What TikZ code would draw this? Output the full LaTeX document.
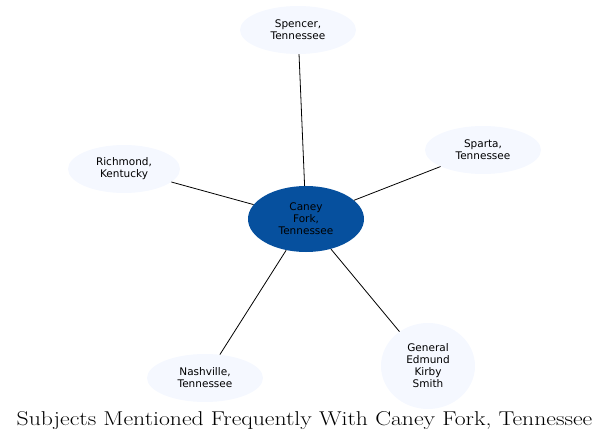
\documentclass[tikz,border=0pt]{standalone}
\usepackage{fontspec}
\usetikzlibrary{shapes.geometric}
\newfontfamily\nodefont{DejaVu Sans}
\definecolor{hubblue}{HTML}{06509E}
\definecolor{leafblue}{HTML}{F5F8FF}
\begin{document}
\begin{tikzpicture}[x=1pt, y=-1pt]
	    \tikzset{leaf/.style={ellipse, fill=leafblue, inner sep=0pt, align=center, font=\nodefont\fontsize{10.5}{12}\selectfont}}
	    \tikzset{hub/.style={ellipse, fill=hubblue, inner sep=0pt, minimum width=116pt, minimum height=66pt, align=center, font=\nodefont\fontsize{10.5}{12}\selectfont}}
	    \tikzset{link/.style={line width=0.8pt}}
	    \useasboundingbox (0,0) rectangle (609,443);
	    \node[hub] (caney) at (306,219) {Caney\\Fork,\\Tennessee};
	    \node[leaf, minimum width=116pt, minimum height=48pt] (spencer) at (298,30) {Spencer,\\Tennessee};
	    \node[leaf, minimum width=116pt, minimum height=48pt] (sparta) at (483,150) {Sparta,\\Tennessee};
	    \node[leaf, minimum width=112pt, minimum height=48pt] (richmond) at (124,169) {Richmond,\\Kentucky};
	    \node[leaf, minimum width=116pt, minimum height=48pt] (nashville) at (205,378) {Nashville,\\Tennessee};
	    \node[leaf, minimum width=94pt, minimum height=86pt] (smith) at (428,366) {General\\Edmund\\Kirby\\Smith};
	    \draw[link] (caney) -- (spencer);
	    \draw[link] (caney) -- (sparta);
	    \draw[link] (caney) -- (richmond);
	    \draw[link] (caney) -- (nashville);
	    \draw[link] (caney) -- (smith);
	    \node[font=\fontsize{20}{22}\selectfont] (title) at (304.5,421) {\scalebox{1.185}[1]{Subjects Mentioned Frequently With Caney Fork, Tennessee}};
	    \end{tikzpicture}
\end{document}
